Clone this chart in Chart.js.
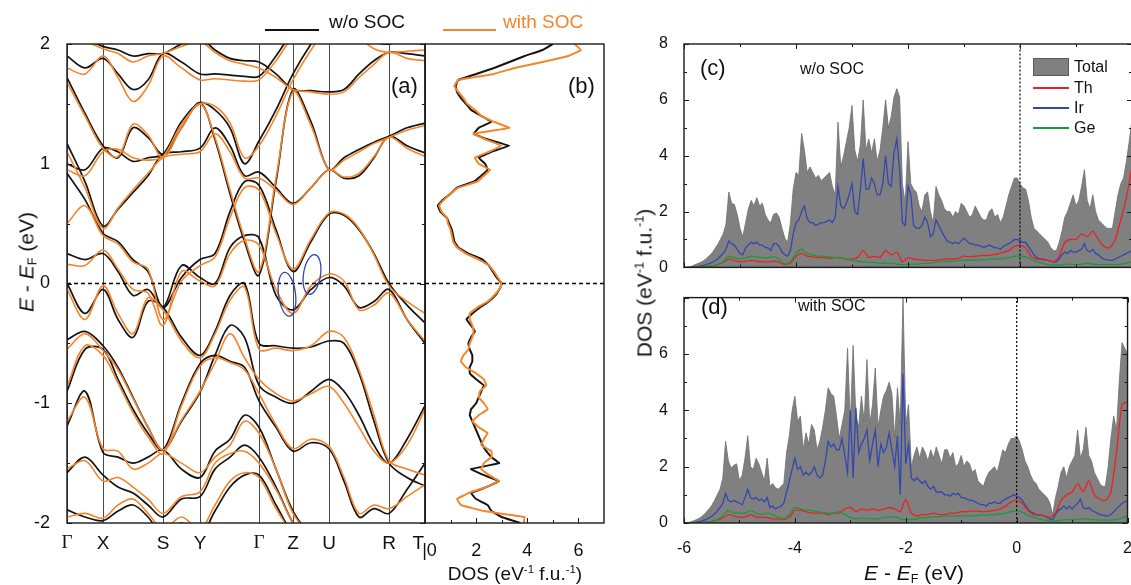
<!DOCTYPE html>
<html>
<head>
<meta charset="utf-8">
<script src="https://cdn.jsdelivr.net/npm/chart.js@4.4.1/dist/chart.umd.min.js"></script>
<style>
  body { margin: 0; width: 1131px; height: 585px; overflow: hidden; background: #fff; position: relative;
         font-family: 'Liberation Sans', Arial, sans-serif; color: #111; }
  canvas { position: absolute; }
  .t { position: absolute; white-space: nowrap; line-height: 1; }
  .rot { transform: translate(-50%, -50%) rotate(-90deg); }
  .ctr { transform: translate(-50%, -50%); }
  sup { font-size: 0.6em; vertical-align: 0.6em; line-height: 0; }
  sub { font-size: 0.6em; vertical-align: -0.25em; line-height: 0; }
  .ln { position: absolute; height: 2px; }
</style>
</head>
<body>
<canvas id="bands" width="470" height="585" style="left:0;top:0"></canvas>
<canvas id="dosB" width="235" height="585" style="left:385px;top:0"></canvas>
<canvas id="dosC" width="550" height="285" style="left:590px;top:0"></canvas>
<canvas id="dosD" width="550" height="305" style="left:590px;top:280px"></canvas>

<!-- top legend -->
<div class="ln" style="left:265px;top:29px;width:54px;background:#111"></div>
<div class="t" style="left:329px;top:12px;font-size:19px">w/o SOC</div>
<div class="ln" style="left:443px;top:29px;width:53px;background:#f5852a"></div>
<div class="t" style="left:503px;top:12px;font-size:19px;color:#f5852a">with SOC</div>

<div class="t" style="left:391px;top:75px;font-size:22px">(a)</div>
<div class="t" style="left:568px;top:75px;font-size:22px">(b)</div>
<div class="t rot" style="left:26px;top:262px;font-size:21px"><i>E</i> - <i>E</i><sub>F</sub> (eV)</div>
<div class="t ctr" style="left:515px;top:573px;font-size:19px">DOS (eV<sup>-1</sup> f.u.<sup>-1</sup>)</div>

<div class="t" style="left:700px;top:57px;font-size:22px">(c)</div>
<div class="t" style="left:800px;top:61px;font-size:16px">w/o SOC</div>
<div class="t" style="left:701px;top:296px;font-size:22px">(d)</div>
<div class="t" style="left:798px;top:298px;font-size:16px">with SOC</div>

<div style="position:absolute;left:1033px;top:58px;width:34px;height:16px;background:#808080;border:1px solid #5a5a5a"></div>
<div class="t" style="left:1074px;top:59px;font-size:16px">Total</div>
<div class="ln" style="left:1033px;top:87px;width:36px;height:1.5px;background:#e8231f"></div>
<div class="t" style="left:1074px;top:80px;font-size:16px">Th</div>
<div class="ln" style="left:1033px;top:107px;width:36px;height:1.5px;background:#3446b0"></div>
<div class="t" style="left:1074px;top:100px;font-size:16px">Ir</div>
<div class="ln" style="left:1033px;top:127px;width:36px;height:1.5px;background:#199a3c"></div>
<div class="t" style="left:1074px;top:120px;font-size:16px">Ge</div>

<div class="t rot" style="left:644px;top:283px;font-size:21px">DOS (eV<sup>-1</sup> f.u.<sup>-1</sup>)</div>
<div class="t ctr" style="left:914px;top:572px;font-size:21px"><i>E</i> - <i>E</i><sub>F</sub> (eV)</div>

<script>
// ---- band structure: k path ----
const kPoints = [0, 36, 96, 133, 192, 226, 262, 322, 358];
const kLabels = ['Γ', 'X', 'S', 'Y', 'Γ', 'Z', 'U', 'R', 'T'];
const kGrid = [0, 18, 36, 51, 66, 81, 96, 114.5, 133, 148, 163, 177.5, 192, 209, 226, 244, 262, 277, 292, 307, 322, 340, 358];

// energies (eV) of each band at the kGrid points, without spin-orbit coupling
const bandsNoSoc = [
  [2.10, 2.05, 1.98, 1.95, 1.90, 1.92, 1.92, 2.00, 2.05, 1.95, 1.88, 1.86, 1.85, 1.75, 1.62, 1.61, 1.60, 1.62, 1.75, 1.86, 1.93, 1.92, 1.90],
  [1.90, 1.80, 1.88, 1.75, 1.62, 1.70, 1.92, 1.85, 1.75, 1.75, 1.74, 1.73, 1.73, 1.90, 2.10, 2.20, 2.25, 2.20, 2.10, 2.02, 2.00, 2.05, 2.10],
  [1.72, 1.42, 1.15, 1.05, 1.30, 1.22, 1.08, 1.30, 1.51, 1.20, 0.75, 0.35, 0.07, 0.85, 1.62, 1.35, 0.95, 1.05, 1.12, 1.18, 1.23, 1.30, 1.34],
  [1.17, 0.85, 0.48, 0.62, 0.76, 0.90, 1.08, 1.10, 1.13, 1.30, 1.15, 0.90, 0.93, 0.80, 0.67, 0.80, 0.95, 0.88, 0.90, 1.05, 1.23, 1.15, 1.09],
  [1.00, 0.95, 1.13, 1.10, 1.02, 1.05, 1.08, 1.35, 1.51, 1.45, 1.30, 1.00, 1.19, 1.45, 1.75, 2.00, 2.20, 2.30, 2.30, 2.20, 2.10, 2.20, 2.30],
  [0.92, 0.70, 0.42, 0.35, 0.20, 0.10, -0.20, 0.05, 0.20, 0.25, 0.60, 0.85, 0.82, 0.45, 0.10, 0.35, 0.58, 0.57, 0.45, 0.25, 0.00, -0.18, -0.33],
  [0.25, 0.20, 0.25, 0.10, -0.10, -0.05, -0.20, 0.15, 0.05, 0.00, 0.30, 0.40, 0.38, -0.10, -0.22, -0.05, 0.05, -0.02, -0.20, -0.15, -0.05, -0.30, -0.50],
  [0.00, -0.25, -0.05, -0.30, -0.45, -0.15, -0.20, -0.45, -0.60, -0.40, -0.10, 0.00, -0.50, -0.52, -0.54, -0.53, -0.48, -0.50, -0.75, -1.15, -1.50, -1.62, -1.69],
  [-0.47, -0.40, -0.52, -0.70, -0.95, -1.20, -1.39, -1.15, -0.91, -0.60, -0.35, -0.45, -0.85, -0.95, -1.00, -0.90, -0.80, -0.90, -1.10, -1.35, -1.50, -1.30, -1.02],
  [-0.90, -0.55, -0.55, -0.80, -1.05, -1.25, -1.39, -1.00, -0.67, -0.60, -0.65, -0.70, -0.98, -1.20, -1.40, -1.33, -1.38, -1.65, -1.95, -1.88, -1.92, -1.72, -1.50],
  [-1.19, -0.90, -1.41, -1.45, -1.50, -1.45, -1.39, -1.55, -1.62, -1.40, -1.30, -1.10, -1.20, -1.55, -1.90, -2.10, -2.20, -2.30, -2.30, -2.20, -2.10, -2.20, -2.30],
  [-1.58, -1.45, -1.60, -1.70, -1.75, -1.85, -1.95, -1.80, -1.78, -1.55, -1.45, -1.35, -1.45, -1.70, -2.00, -2.20, -2.30, -2.40, -2.40, -2.30, -2.20, -2.30, -2.40],
  [-1.89, -1.95, -1.98, -1.90, -1.85, -1.95, -2.10, -2.00, -2.10, -1.90, -1.70, -1.60, -1.60, -1.85, -2.10, -2.30, -2.40, -2.50, -2.50, -2.40, -2.30, -2.40, -2.50]
];

// same bands with spin-orbit coupling
const bandsSoc = [
  [2.12, 2.03, 1.96, 1.92, 1.85, 1.90, 1.92, 1.98, 2.02, 1.93, 1.86, 1.83, 1.80, 1.72, 1.62, 1.60, 1.58, 1.60, 1.72, 1.83, 1.93, 1.88, 1.86],
  [1.80, 1.75, 1.90, 1.72, 1.52, 1.65, 1.90, 1.80, 1.70, 1.71, 1.70, 1.69, 1.70, 1.86, 2.06, 2.16, 2.22, 2.18, 2.06, 1.96, 1.93, 1.94, 1.95],
  [1.68, 1.40, 1.13, 1.06, 1.33, 1.24, 1.05, 1.30, 1.50, 1.22, 0.78, 0.38, 0.10, 0.88, 1.60, 1.32, 0.95, 1.03, 1.10, 1.17, 1.22, 1.28, 1.32],
  [1.10, 0.80, 0.46, 0.63, 0.78, 0.92, 1.05, 1.08, 1.10, 1.25, 1.10, 0.88, 0.88, 0.78, 0.66, 0.80, 0.95, 0.89, 0.92, 1.06, 1.22, 1.13, 1.06],
  [0.95, 0.90, 1.10, 1.12, 1.05, 1.03, 1.06, 1.33, 1.50, 1.48, 1.34, 1.05, 1.15, 1.40, 1.70, 1.95, 2.15, 2.25, 2.25, 2.15, 2.05, 2.12, 2.20],
  [0.50, 0.65, 0.40, 0.33, 0.18, 0.12, -0.30, 0.02, 0.15, 0.22, 0.55, 0.80, 0.78, 0.42, 0.12, 0.37, 0.59, 0.58, 0.46, 0.24, -0.02, -0.15, -0.25],
  [0.16, 0.15, 0.28, 0.12, -0.05, -0.08, -0.35, 0.10, 0.02, -0.02, 0.25, 0.36, 0.32, -0.05, -0.25, -0.02, 0.08, 0.02, -0.22, -0.18, -0.08, -0.30, -0.48],
  [-0.05, -0.30, -0.02, -0.25, -0.42, -0.12, -0.22, -0.48, -0.62, -0.42, -0.14, -0.03, -0.55, -0.54, -0.56, -0.52, -0.40, -0.45, -0.72, -1.10, -1.48, -1.55, -1.60],
  [-0.55, -0.42, -0.56, -0.72, -0.96, -1.20, -1.39, -1.14, -0.90, -0.66, -0.42, -0.62, -0.80, -0.92, -0.98, -0.92, -0.86, -1.00, -1.20, -1.40, -1.50, -1.35, -1.05],
  [-0.86, -0.52, -0.60, -0.83, -1.08, -1.28, -1.42, -1.02, -0.69, -0.62, -0.66, -0.72, -0.92, -1.18, -1.38, -1.30, -1.36, -1.62, -1.92, -1.85, -1.88, -1.78, -1.68],
  [-1.15, -0.95, -1.38, -1.40, -1.55, -1.50, -1.42, -1.50, -1.58, -1.45, -1.35, -1.15, -1.25, -1.55, -1.92, -2.10, -2.20, -2.30, -2.30, -2.20, -2.10, -2.20, -2.30],
  [-1.55, -1.48, -1.65, -1.62, -1.70, -1.80, -1.92, -1.78, -1.74, -1.50, -1.42, -1.40, -1.50, -1.72, -2.00, -2.20, -2.30, -2.40, -2.40, -2.30, -2.20, -2.30, -2.40],
  [-1.95, -1.92, -1.96, -1.85, -1.80, -1.92, -2.05, -1.95, -2.05, -1.85, -1.65, -1.58, -1.62, -1.88, -2.10, -2.30, -2.40, -2.50, -2.50, -2.40, -2.30, -2.40, -2.50]
];

// ---- panel (b): total DOS between -2 and 2 eV, step 0.05 ----
const eWindow = Array.from({ length: 81 }, (_, i) => +(-2 + i * 0.05).toFixed(2));
const dosWindowNoSoc = [
  3.73, 3.0, 2.6, 2.45, 2.0, 1.8, 2.4, 2.9, 2.3, 1.8, 2.9, 2.6, 2.4, 2.25, 2.15, 2.05, 1.95, 1.85, 1.75, 1.8,
  2.0, 2.1, 2.2, 2.3, 2.0, 1.75, 1.75, 1.85, 1.85, 1.75, 1.7, 1.8, 1.95, 1.8, 1.62, 1.85, 2.15, 2.5, 2.75, 2.9,
  3.0, 2.8, 2.65, 2.5, 2.25, 1.7, 1.3, 1.15, 1.1, 1.05, 0.95, 0.85, 0.6, 0.5, 0.7, 1.0, 1.25, 1.9, 2.2, 2.45,
  2.35, 2.1, 2.6, 3.3, 2.5, 1.9, 2.1, 2.6, 2.2, 1.8, 1.6, 1.4, 1.25, 1.2, 1.3, 2.0, 2.7, 3.3, 3.9, 4.6,
  5.0
];
const dosWindowSoc = [
  3.86, 3.9, 2.3, 1.4, 1.25, 1.7, 2.4, 2.9, 2.5, 2.2, 2.3, 2.6, 2.6, 2.2, 2.3, 2.45, 2.1, 1.85, 2.1, 2.45,
  2.3, 2.1, 2.15, 2.4, 2.3, 2.0, 1.6, 1.4, 1.5, 1.7, 1.75, 1.85, 1.9, 1.85, 1.75, 1.75, 2.05, 2.45, 2.7, 2.9,
  3.0, 2.85, 2.7, 2.5, 2.1, 1.6, 1.25, 1.1, 1.05, 1.0, 0.9, 0.85, 0.65, 0.55, 0.75, 1.0, 1.3, 2.05, 2.3, 2.55,
  2.1, 1.95, 2.5, 3.0, 2.4, 1.9, 3.3, 2.7, 2.2, 1.95, 1.65, 1.5, 1.3, 1.15, 1.3, 2.7, 3.5, 4.6, 5.6, 6.1,
  5.85
];

// ---- panels (c), (d): DOS from -6 to 2 eV ----
const eFine = Array.from({ length: 161 }, (_, i) => +(-6 + i * 0.05).toFixed(2));
const eCoarse = Array.from({ length: 81 }, (_, i) => +(-6 + i * 0.1).toFixed(1));

const totalNoSoc = [
  0, 0, 0.02, 0.05, 0.10, 0.14, 0.18, 0.24, 0.32, 0.42, 0.52, 0.66, 0.82, 1.00, 1.20, 1.55, 2.70, 2.30, 2.25, 1.90,
  1.40, 1.10, 1.60, 2.10, 2.40, 2.20, 2.50, 2.20, 2.30, 1.90, 1.70, 1.60, 1.90, 1.95, 1.80, 1.40, 1.05, 0.90, 1.60, 2.80,
  3.40, 3.30, 4.80, 4.20, 3.40, 3.60, 3.40, 3.20, 3.30, 3.10, 3.20, 3.30, 3.40, 2.90, 2.60, 5.20, 3.60, 4.00, 4.50, 5.00,
  5.80, 4.20, 3.80, 4.40, 6.00, 4.20, 4.60, 4.10, 4.60, 3.80, 4.20, 5.00, 6.00, 5.00, 5.40, 6.10, 6.40, 6.10, 3.00, 2.30,
  4.50, 3.00, 2.80, 2.70, 2.20, 2.00, 2.60, 2.70, 2.00, 1.60, 2.90, 2.60, 2.40, 2.10, 2.00, 2.00, 1.80, 2.00, 1.90, 2.30,
  2.20, 2.00, 1.80, 1.90, 2.20, 2.00, 1.80, 1.70, 1.70, 2.00, 2.10, 1.80, 1.90, 1.60, 1.80, 2.20, 2.60, 2.90, 3.20, 3.20,
  3.00, 2.85, 2.80, 2.40, 1.80, 1.40, 1.30, 1.20, 1.10, 1.00, 0.90, 0.70, 0.60, 0.60, 0.90, 1.30, 1.80, 2.00, 2.30, 2.60,
  2.20, 2.40, 2.90, 3.50, 2.40, 2.10, 2.60, 2.00, 1.70, 1.60, 1.50, 1.40, 1.40, 1.40, 2.00, 2.60, 3.00, 3.20, 3.80, 4.50,
  5.30
];
const irNoSoc = [
  0, 0, 0, 0.01, 0.02, 0.03, 0.05, 0.07, 0.1, 0.14, 0.18, 0.24, 0.3, 0.4, 0.5, 0.65, 0.95, 0.85, 0.8, 0.65,
  0.5, 0.45, 0.7, 0.8, 0.9, 0.85, 0.9, 0.8, 0.8, 0.72, 0.7, 0.6, 0.85, 0.85, 0.75, 0.55, 0.45, 0.4, 0.6, 1.2,
  1.6, 1.7, 2.0, 2.2, 1.75, 1.6, 1.6, 1.5, 1.55, 1.6, 1.6, 1.65, 1.7, 1.6, 1.8, 2.9, 2.2, 2.1, 2.3, 2.6,
  3.0, 2.0, 1.9, 2.8, 3.9, 2.8, 2.8, 3.2, 3.0, 2.6, 2.6, 3.0, 4.0, 3.0, 2.9, 4.1, 4.6, 3.5, 1.6, 1.5,
  2.9, 2.6, 1.5, 1.4, 1.4, 1.5, 1.8, 1.6, 1.1, 1.2, 1.7, 1.5, 1.3, 1.1, 0.95, 0.9, 0.85, 0.9, 0.85, 0.95,
  1.05, 0.95, 0.85, 0.85, 0.8, 0.8, 0.75, 0.72, 0.75, 0.8, 0.75, 0.7, 0.7, 0.65, 0.75, 0.8, 0.85, 0.9, 1.0, 1.0,
  0.95, 0.9, 0.9, 0.75, 0.6, 0.45, 0.35, 0.3, 0.3, 0.28, 0.25, 0.22, 0.2, 0.2, 0.3, 0.45, 0.55, 0.5, 0.6, 0.55,
  0.55, 0.6, 0.65, 0.85, 0.6, 0.55, 0.65, 0.5, 0.45, 0.35, 0.3, 0.28, 0.25, 0.25, 0.3, 0.35, 0.4, 0.45, 0.5, 0.55,
  0.6
];
const thNoSoc = [
  0, 0, 0, 0.01, 0.03, 0.05, 0.1, 0.18, 0.3, 0.25,
  0.2, 0.22, 0.25, 0.22, 0.2, 0.2, 0.22, 0.18, 0.1, 0.15,
  0.4, 0.5, 0.4, 0.38, 0.35, 0.35, 0.32, 0.35, 0.35, 0.3,
  0.3, 0.35, 0.6, 0.35, 0.4, 0.35, 0.6, 0.45, 0.55, 0.2,
  0.35, 0.3, 0.28, 0.25, 0.25, 0.25, 0.28, 0.3, 0.3, 0.32,
  0.4, 0.38, 0.4, 0.42, 0.42, 0.45, 0.48, 0.55, 0.6, 0.75,
  0.8, 0.7, 0.4, 0.3, 0.28, 0.25, 0.2, 0.4, 0.9, 1.0,
  1.0, 1.2, 1.1, 1.3, 1.0, 0.75, 0.7, 1.0, 1.7, 2.5, 3.6
];
const geNoSoc = [
  0, 0, 0, 0.01, 0.03, 0.05, 0.1, 0.2, 0.4, 0.35,
  0.3, 0.35, 0.4, 0.38, 0.35, 0.35, 0.38, 0.3, 0.12, 0.2,
  0.5, 0.65, 0.5, 0.45, 0.4, 0.4, 0.38, 0.35, 0.35, 0.3,
  0.25, 0.22, 0.2, 0.18, 0.18, 0.15, 0.15, 0.15, 0.12, 0.1,
  0.1, 0.12, 0.12, 0.15, 0.15, 0.18, 0.2, 0.22, 0.22, 0.25,
  0.25, 0.26, 0.25, 0.28, 0.28, 0.3, 0.3, 0.32, 0.35, 0.4,
  0.4, 0.38, 0.3, 0.2, 0.15, 0.1, 0.08, 0.08, 0.1, 0.12,
  0.1, 0.12, 0.15, 0.12, 0.1, 0.1, 0.1, 0.1, 0.12, 0.15, 0.2
];

const totalSoc = [
  0, 0, 0.03, 0.06, 0.10, 0.14, 0.20, 0.28, 0.38, 0.50, 0.62, 0.80, 1.00, 1.20, 1.60, 2.90, 2.20, 1.95, 2.05, 2.10,
  1.50, 1.70, 2.30, 3.10, 2.00, 1.90, 2.30, 2.10, 1.80, 1.50, 2.30, 1.30, 1.40, 1.25, 1.20, 1.30, 1.40, 2.50, 3.10, 4.00,
  4.50, 3.60, 3.80, 2.60, 3.20, 2.80, 3.50, 3.30, 2.60, 2.90, 3.40, 4.00, 4.80, 4.60, 4.50, 3.80, 3.00, 3.50, 4.00, 6.20,
  3.50, 6.30, 3.80, 3.40, 4.50, 3.60, 5.80, 3.50, 4.20, 5.50, 3.40, 4.00, 4.50, 4.70, 5.00, 4.60, 3.00, 4.80, 3.50, 8.00,
  3.50, 4.20, 2.00, 2.40, 2.70, 2.30, 2.70, 2.50, 2.20, 2.60, 2.30, 2.70, 2.40, 2.10, 2.60, 2.60, 2.30, 2.50, 2.00, 2.10,
  2.40, 2.00, 2.20, 2.10, 1.80, 1.90, 1.50, 1.40, 1.30, 1.60, 1.80, 1.90, 2.00, 1.80, 2.20, 2.60, 2.50, 2.80, 3.00, 3.00,
  3.10, 2.90, 2.60, 2.20, 2.00, 1.70, 1.50, 1.40, 1.20, 1.10, 1.00, 0.90, 0.70, 0.30, 0.90, 1.30, 1.80, 2.00, 1.60, 2.00,
  2.20, 2.40, 3.30, 2.30, 2.60, 3.40, 2.40, 2.20, 1.80, 1.60, 1.40, 1.30, 1.30, 2.00, 3.00, 3.80, 3.30, 5.00, 6.40, 6.20,
  6.00
];
const irSoc = [
  0, 0, 0, 0.01, 0.02, 0.04, 0.06, 0.09, 0.13, 0.18, 0.24, 0.32, 0.42, 0.55, 0.7, 1.05, 0.8, 0.75, 0.8, 0.75,
  0.7, 0.65, 0.9, 1.2, 0.9, 0.85, 0.9, 0.8, 0.85, 0.75, 0.9, 0.55, 0.6, 0.5, 0.55, 0.6, 0.7, 1.1, 1.5, 1.9,
  2.3, 1.9, 2.0, 1.7, 1.8, 1.7, 1.8, 2.0, 1.7, 1.6, 1.7, 2.2, 2.9, 2.7, 2.8, 2.6, 2.6, 3.0, 2.4, 1.8,
  4.0, 1.6, 4.1, 2.5, 2.8, 3.0, 3.3, 2.2, 2.8, 3.3, 2.0, 2.8, 2.5, 2.7, 3.2, 2.6, 2.0, 3.1, 1.0, 5.3,
  2.1, 2.8, 1.6, 1.5, 1.6, 1.5, 1.4, 1.5, 1.3, 1.2, 1.3, 1.1, 1.1, 1.1, 1.0, 1.0, 0.95, 1.05, 1.0, 1.05,
  0.9, 0.9, 0.85, 0.8, 0.8, 0.75, 0.7, 0.65, 0.65, 0.6, 0.7, 0.7, 0.75, 0.7, 0.7, 0.8, 0.85, 0.9, 0.95, 1.0,
  0.95, 0.9, 0.8, 0.65, 0.5, 0.4, 0.35, 0.3, 0.3, 0.28, 0.25, 0.2, 0.15, 0.12, 0.3, 0.45, 0.5, 0.6, 0.5, 0.6,
  0.5, 0.6, 0.7, 0.85, 0.55, 0.5, 0.55, 0.45, 0.4, 0.35, 0.3, 0.28, 0.25, 0.25, 0.3, 0.4, 0.5, 0.6, 0.7, 0.75,
  0.8
];
const thSoc = [
  0, 0, 0, 0.01, 0.03, 0.05, 0.1, 0.18, 0.3, 0.25,
  0.2, 0.22, 0.3, 0.22, 0.2, 0.2, 0.15, 0.15, 0.12, 0.2,
  0.45, 0.45, 0.4, 0.35, 0.35, 0.35, 0.3, 0.35, 0.35, 0.5,
  0.55, 0.4, 0.5, 0.45, 0.5, 0.45, 0.5, 0.55, 0.5, 0.4,
  0.85, 0.35, 0.25, 0.3, 0.3, 0.35, 0.3, 0.3, 0.35, 0.35,
  0.4, 0.4, 0.42, 0.42, 0.4, 0.42, 0.45, 0.5, 0.6, 0.75,
  0.8, 0.7, 0.45, 0.3, 0.28, 0.25, 0.2, 0.35, 0.8, 1.0,
  1.1, 1.4, 1.1, 1.5, 1.0, 0.85, 0.8, 1.1, 2.5, 4.2, 4.3
];
const geSoc = [
  0, 0, 0, 0.01, 0.03, 0.06, 0.12, 0.25, 0.45, 0.35,
  0.35, 0.35, 0.45, 0.35, 0.3, 0.35, 0.3, 0.2, 0.15, 0.3,
  0.55, 0.5, 0.45, 0.45, 0.4, 0.38, 0.35, 0.35, 0.4, 0.3,
  0.2, 0.15, 0.18, 0.15, 0.15, 0.15, 0.2, 0.2, 0.22, 0.15,
  0.12, 0.12, 0.15, 0.18, 0.2, 0.22, 0.22, 0.25, 0.25, 0.25,
  0.25, 0.26, 0.25, 0.28, 0.28, 0.3, 0.3, 0.32, 0.35, 0.4,
  0.42, 0.38, 0.28, 0.2, 0.15, 0.1, 0.08, 0.07, 0.1, 0.12,
  0.12, 0.14, 0.15, 0.13, 0.12, 0.1, 0.1, 0.1, 0.12, 0.18, 0.25
];

const ORANGE = '#f5852a';
const BLACK = '#141414';
const FONT = "'Liberation Sans', Arial, sans-serif";

const pts = (xs, ys) => xs.map((x, i) => ({ x, y: ys[i] }));

// inward tick marks and frame around the plot area
const frameTicks = {
  id: 'frameTicks',
  afterDatasetsDraw(chart, args, o) {
    const { ctx, chartArea: a, scales: { x, y } } = chart;
    ctx.save();
    ctx.strokeStyle = '#1a1a1a';
    ctx.lineWidth = 1;
    ctx.beginPath();
    const xs = (list, len) => (list || []).forEach(v => {
      const p = Math.round(x.getPixelForValue(v)) + 0.5;
      ctx.moveTo(p, a.bottom); ctx.lineTo(p, a.bottom - len);
      if (o.top) { ctx.moveTo(p, a.top); ctx.lineTo(p, a.top + len); }
    });
    const ys = (list, len) => (list || []).forEach(v => {
      const p = Math.round(y.getPixelForValue(v)) + 0.5;
      ctx.moveTo(a.left, p); ctx.lineTo(a.left + len, p);
      if (o.right) { ctx.moveTo(a.right, p); ctx.lineTo(a.right - len, p); }
    });
    xs(o.xMajor, 5); xs(o.xMinor, 3);
    ys(o.yMajor, 5); ys(o.yMinor, 3);
    ctx.stroke();
    ctx.lineWidth = 1.4;
    ctx.strokeRect(a.left, a.top, a.width, a.height);
    ctx.restore();
  }
};

// blue ellipses marking the crossings near Z
const markers = {
  id: 'markers',
  afterDatasetsDraw(chart) {
    const { ctx, scales: { x, y } } = chart;
    ctx.save();
    ctx.strokeStyle = '#3446b0';
    ctx.lineWidth = 1.3;
    [[220, -0.09, 8.5, 22, -0.12], [245, 0.075, 8.5, 20, 0.15]].forEach(([k, e, rx, ry, rot]) => {
      ctx.beginPath();
      ctx.ellipse(x.getPixelForValue(k), y.getPixelForValue(e), rx, ry, rot, 0, Math.PI * 2);
      ctx.stroke();
    });
    ctx.restore();
  }
};

const baseOpts = {
  responsive: false,
  animation: false,
  events: [],
  plugins: { legend: { display: false }, tooltip: { enabled: false } },
  elements: { point: { radius: 0 }, line: { tension: 0.35, fill: false } }
};

// ---- (a) band structure ----
const bandSets = [];
bandsSoc.forEach(b => bandSets.push({ data: pts(kGrid, b), borderColor: ORANGE, borderWidth: 1.6, order: 1 }));
bandsNoSoc.forEach(b => bandSets.push({ data: pts(kGrid, b), borderColor: BLACK, borderWidth: 1.7, order: 2 }));
bandSets.push({ data: [{ x: 0, y: 0 }, { x: 358, y: 0 }], borderColor: '#000', borderWidth: 1.3, borderDash: [4, 3], tension: 0, order: 0 });

new Chart(document.getElementById('bands'), {
  type: 'line',
  data: { datasets: bandSets },
  options: {
    ...baseOpts,
    layout: { padding: { top: 44, right: 45, left: 0, bottom: 0 } },
    scales: {
      x: {
        type: 'linear', min: 0, max: 358,
        afterBuildTicks: s => { s.ticks = kPoints.map(v => ({ value: v })); },
        afterFit: s => { s.height = 62; },
        grid: { color: '#4a4a4a', lineWidth: 1, drawTicks: false },
        border: { display: false },
        ticks: {
          autoSkip: false, maxRotation: 0, padding: 9, color: '#111',
          font: c => ({ family: kLabels[c.index] === 'Γ' ? "'Liberation Serif', serif" : FONT, size: 19 }),
          callback: (v, i) => i === kLabels.length - 1 ? 'T\u2002\u2009' : kLabels[i]
        }
      },
      y: {
        type: 'linear', min: -2, max: 2,
        afterBuildTicks: s => { s.ticks = [-2, -1, 0, 1, 2].map(v => ({ value: v })); },
        afterFit: s => { s.width = 67; },
        grid: { display: false },
        border: { display: false },
        ticks: { padding: 9, color: '#111', font: { family: FONT, size: 18 } }
      }
    },
    plugins: {
      ...baseOpts.plugins,
      frameTicks: { yMajor: [-2, -1, 0, 1, 2], yMinor: [-1.5, -0.5, 0.5, 1.5], right: true }
    }
  },
  plugins: [frameTicks, markers]
});

// ---- (b) total DOS, vertical ----
new Chart(document.getElementById('dosB'), {
  type: 'line',
  data: {
    datasets: [
      { data: pts(dosWindowSoc, eWindow), borderColor: ORANGE, borderWidth: 2, tension: 0.05, order: 1 },
      { data: pts(dosWindowNoSoc, eWindow), borderColor: BLACK, borderWidth: 2, tension: 0.05, order: 2 },
      { data: [{ x: 0, y: 0 }, { x: 7, y: 0 }], borderColor: '#000', borderWidth: 1.3, borderDash: [4, 3], tension: 0, order: 0 }
    ]
  },
  options: {
    ...baseOpts,
    layout: { padding: { top: 44, right: 16, left: 40, bottom: 0 } },
    scales: {
      x: {
        type: 'linear', min: 0, max: 7,
        afterBuildTicks: s => { s.ticks = [0, 2, 4, 6].map(v => ({ value: v })); },
        afterFit: s => { s.height = 62; },
        grid: { display: false },
        border: { display: false },
        ticks: {
          padding: 9, color: '#111', font: { family: FONT, size: 18 }, maxRotation: 0,
          callback: v => v === 0 ? '\u2002|0' : v
        }
      },
      y: { type: 'linear', min: -2, max: 2, display: false }
    },
    plugins: { ...baseOpts.plugins, frameTicks: { xMajor: [0, 2, 4, 6], xMinor: [1, 3, 5] } }
  },
  plugins: [frameTicks]
});

// ---- (c), (d) projected DOS ----
function dosChart(id, total, ir, th, ge, showX) {
  return new Chart(document.getElementById(id), {
    type: 'line',
    data: {
      datasets: [
        { data: pts(eFine, total), borderColor: '#6f6f6f', backgroundColor: '#808080', borderWidth: 0.8, fill: 'origin', tension: 0, order: 10 },
        { data: pts(eFine, ir), borderColor: '#3446b0', borderWidth: 1.3, tension: 0, order: 3 },
        { data: pts(eCoarse, th), borderColor: '#e8231f', borderWidth: 1.3, tension: 0.2, order: 2 },
        { data: pts(eCoarse, ge), borderColor: '#199a3c', borderWidth: 1.3, tension: 0.2, order: 1 },
        { data: [{ x: 0, y: 0 }, { x: 0, y: 8 }], borderColor: '#000', borderWidth: 1.2, borderDash: [2, 2], tension: 0, order: 0 }
      ]
    },
    options: {
      ...baseOpts,
      layout: { padding: { top: showX ? 4 : 44, right: 8, left: 0, bottom: 0 } },
      scales: {
        x: {
          type: 'linear', min: -6, max: 2,
          afterBuildTicks: s => { s.ticks = [-6, -4, -2, 0, 2].map(v => ({ value: v })); },
          afterFit: s => { s.height = showX ? 62 : 1; },
          grid: { display: false },
          border: { display: false },
          ticks: { display: showX, padding: 8, color: '#111', font: { family: FONT, size: 16 }, maxRotation: 0 }
        },
        y: {
          type: 'linear', min: 0, max: 8,
          afterBuildTicks: s => { s.ticks = (showX ? [0, 2, 4, 6] : [0, 2, 4, 6, 8]).map(v => ({ value: v })); },
          afterFit: s => { s.width = 94; },
          grid: { display: false },
          border: { display: false },
          ticks: { padding: 8, color: '#111', font: { family: FONT, size: 16 } }
        }
      },
      plugins: {
        ...baseOpts.plugins,
        frameTicks: {
          xMajor: [-6, -4, -2, 0, 2], xMinor: [-5, -3, -1, 1],
          yMajor: [0, 2, 4, 6, 8], yMinor: [1, 3, 5, 7], top: true, right: true
        }
      }
    },
    plugins: [frameTicks]
  });
}

dosChart('dosC', totalNoSoc, irNoSoc, thNoSoc, geNoSoc, false);
dosChart('dosD', totalSoc, irSoc, thSoc, geSoc, true);
</script>
</body>
</html>
